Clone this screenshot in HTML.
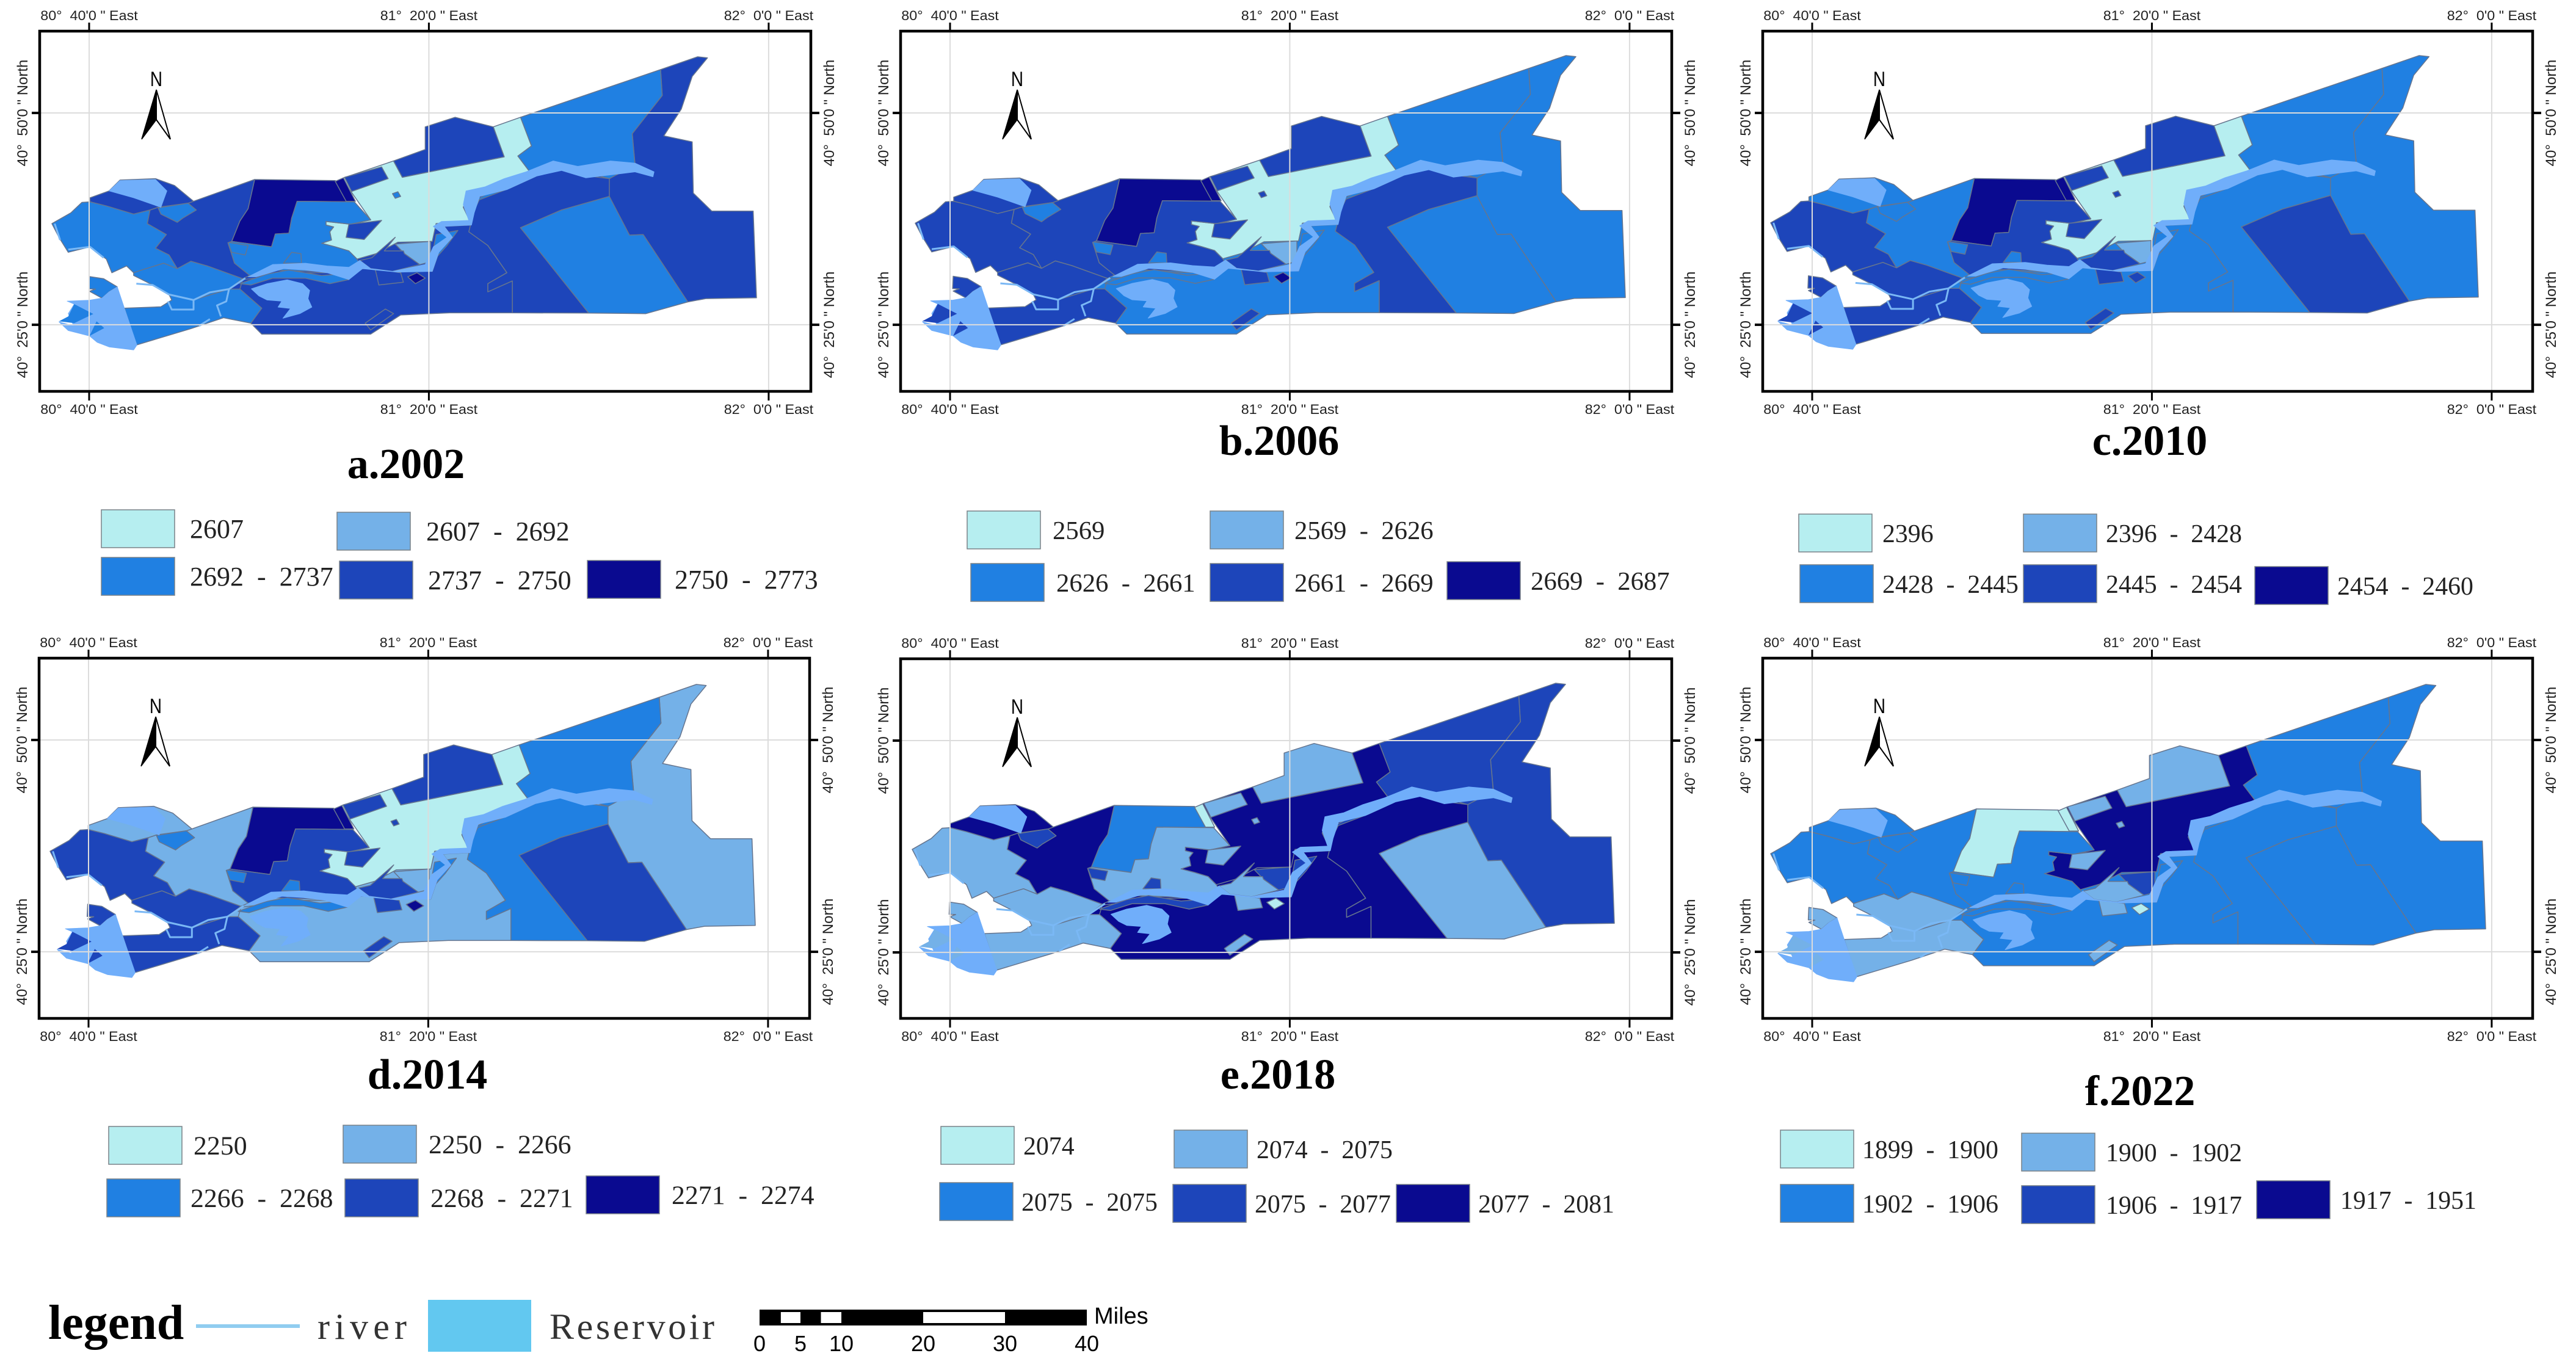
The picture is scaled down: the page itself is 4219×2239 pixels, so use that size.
<!DOCTYPE html>
<html lang="en">
<head>
<meta charset="utf-8">
<title>Six-period classified map panels</title>
<style>
html,body{margin:0;padding:0;background:#fff;}
svg{display:block;}
text{white-space:pre;}
</style>
</head>
<body>
<svg id="figure" xmlns="http://www.w3.org/2000/svg" width="4219" height="2239" viewBox="0 0 4219 2239"></svg>
<script>
/* ---------- data ---------- */
const panelNames = ["a", "b", "c", "d", "e", "f"];
const panelTitles = ["a.2002", "b.2006", "c.2010", "d.2014", "e.2018", "f.2022"];
const legendLabels = [
  ["2607", "2607  -  2692", "2692  -  2737", "2737  -  2750", "2750  -  2773"],
  ["2569", "2569  -  2626", "2626  -  2661", "2661  -  2669", "2669  -  2687"],
  ["2396", "2396  -  2428", "2428  -  2445", "2445  -  2454", "2454  -  2460"],
  ["2250", "2250  -  2266", "2266  -  2268", "2268  -  2271", "2271  -  2274"],
  ["2074", "2074  -  2075", "2075  -  2075", "2075  -  2077", "2077  -  2081"],
  ["1899  -  1900", "1900  -  1902", "1902  -  1906", "1906  -  1917", "1917  -  1951"]
];
const classColors = ["#b6eef0", "#74b1e8", "#2080e2", "#1d45ba", "#0a0a90"];
const lakeColor = "#70aefa";
const lonTicks = [80.6667, 81.3333, 82];
const lonLabels = ["80°  40'0 \" East", "81°  20'0 \" East", "82°  0'0 \" East"];
const latTicks = [40.8333, 40.4167];
const latLabels = ["40°  50'0 \" North", "40°  25'0 \" North"];
const scaleValues = [0, 5, 10, 20, 30, 40];
const scaleWhiteBars = [[2.6, 5], [7.5, 10], [20, 30]];

/* class index of each zone for panels a..f */
const zoneClasses = {
  riverBase:     [3, 2, 2, 1, 4, 2],
  eastStrip:     [3, 2, 2, 1, 3, 2],
  northEast:     [2, 2, 2, 2, 3, 2],
  southMain:     [3, 2, 2, 1, 4, 2],
  southEast:     [3, 3, 2, 2, 4, 2],
  eastBox:       [2, 2, 3, 3, 1, 2],
  center:        [0, 0, 0, 0, 4, 4],
  northBlock:    [3, 3, 3, 3, 1, 1],
  northStrip:    [3, 3, 3, 3, 1, 1],
  upperBlock:    [4, 4, 4, 4, 2, 0],
  upperSliver:   [4, 4, 4, 4, 0, 0],
  midWest:       [2, 3, 3, 3, 1, 2],
  midWestPatch:  [2, 2, 2, 2, 3, 2],
  midWestLump:   [2, 2, 2, 2, 3, 2],
  westCentral:   [3, 3, 2, 1, 4, 2],
  nwSurround:    [3, 3, 2, 1, 4, 2],
  pentagon:      [2, 2, 2, 2, 3, 2],
  farWest:       [2, 3, 3, 3, 1, 2],
  swMiddle:      [2, 3, 3, 3, 1, 1],
  swSouth:       [2, 3, 3, 3, 1, 1],
  swWest:        [2, 3, 3, 3, 1, 1],
  hook:          [3, 3, 3, 3, 1, 1],
  smallParcel:   [3, 3, 3, 3, 1, 1],
  diamond:       [4, 4, 3, 4, 0, 0],
  nearDiamond:   [3, 3, 3, 3, 1, 1],
  riverParcel:   [1, 1, 1, 1, 3, 3],
  centerParcel:  [3, 3, 3, 3, 1, 1],
  riverBend:     [2, 2, 2, 2, 3, 2],
  centerSquare:  [2, 3, 3, 3, 1, 1],
  northBank:     [2, 2, 2, 2, 3, 2],
  southBank:     [2, 2, 2, 2, 3, 2]
};
const patchClasses = {
  swPatchA:      [2, 3, 3, 3, 1, 1],
  swPatchB:      [2, 3, 3, 3, 1, 1]
};

/* zone geometry (map units), shared by all six panels */
const zoneShapes = {
  riverBase: "418,1062 445,1020 600,955 700,880 800,800 850,700 1020,595 1118,650 1118,725 900,1000 800,1000 500,1060",
  eastStrip: "1280,208 1298,212 1270,280 1250,400 1218,498 1270,520 1272,708 1306,774 1382,774 1388,1092 1295,1095 1262,1107 1180,860 1155,862 1115,720 1118,655 1165,600 1160,490 1215,350 1212,255",
  northEast: "955,430 1212,255 1215,350 1160,490 1165,605 1118,655 1020,600 972,630 950,572 975,535",
  southMain: "460,1185 480,1130 440,1060 445,1025 560,1000 650,1000 665,985 793,995 805,925 830,870 815,830 865,825 870,780 895,900 930,1000 895,1040 895,1070 940,1030 940,1147 825,1147 735,1155 680,1225 480,1225",
  southEast: "870,770 880,730 930,690 990,630 1020,610 1060,640 1118,655 1118,720 1030,770 955,835 1080,1148 940,1147 940,1030 895,1070 895,1040 930,1000 895,900 860,850",
  eastBox: "955,835 1030,770 1118,720 1155,862 1180,860 1262,1107 1185,1150 1080,1148",
  center: "630,652 722,590 738,650 925,575 905,465 955,430 975,535 950,572 972,630 930,660 900,700 860,700 850,760 862,810 800,820 793,885 730,888 690,930 655,950 640,920 615,905 590,892 608,880 605,850 612,832 598,825 598,812 643,822 680,806 645,705 630,670",
  northBlock: "780,465 835,430 905,465 925,575 738,650 722,590 780,548",
  northStrip: "632,650 700,612 712,655 645,702",
  upperBlock: "467,658 615,662 650,740 545,738 535,800 530,855 505,858 498,905 425,885 440,810 455,765",
  upperSliver: "615,665 630,652 652,738 635,738",
  midWest: "545,738 650,740 680,806 643,822 598,812 598,825 612,832 605,850 608,880 590,892 615,905 640,920 655,950 665,985 640,1000 500,990 450,1015 430,965 418,890 425,885 498,905 505,858 530,855 535,800",
  midWestPatch: "418,888 455,900 450,935 425,925",
  midWestLump: "520,965 535,925 552,930 553,965",
  westCentral: "355,738 467,658 455,765 440,810 425,885 418,890 430,965 458,1010 445,1022 380,975 350,958 325,985 310,935 285,910 305,860 270,820 275,770 290,760 345,745",
  nwSurround: "165,725 200,700 220,660 285,655 320,680 355,738 345,745 290,760 275,770 245,785 195,755 165,740",
  pentagon: "290,762 345,745 360,770 335,800 325,815 295,785",
  farWest: "150,742 165,740 195,755 245,785 275,770 270,820 305,860 285,910 310,935 325,985 300,965 260,990 245,1000 232,975 205,1000 195,950 165,905 125,925 108,870 95,820 130,780",
  swMiddle: "245,1000 260,990 300,965 325,985 350,958 380,975 445,1022 420,1060 355,1100 310,1080 280,1045 245,1010",
  swSouth: "310,1080 355,1100 420,1060 440,1060 480,1130 460,1185 410,1165 350,1205 250,1265 228,1130 295,1125 315,1100",
  swWest: "164,1014 190,1022 215,1052 200,1070 187,1093 164,1068 175,1060 163,1059",
  hook: "640,822 672,815 700,808 668,878 635,870",
  smallParcel: "670,1185 707,1133 722,1150 680,1210",
  diamond: "748,1015 765,1000 780,1020 762,1040",
  nearDiamond: "688,985 735,1000 740,1035 695,1045",
  riverParcel: "725,895 790,885 790,960 770,970 742,930",
  centerParcel: "682,945 725,870 705,920 740,920 742,930 770,970 720,995 680,985 660,955",
  riverBend: "800,860 840,845 820,900 800,945 795,915",
  centerSquare: "720,710 730,703 735,720 725,727",
  northBank: "870,735 900,705 930,665 970,650 1010,615 990,640 935,690 880,732",
  southBank: "440,1040 490,1005 530,990 590,1010 625,1005 640,1025 605,1040 560,1020 500,1020 460,1045"
};
const lakeShapes = {
  mainRiver: "455,1015 500,970 560,965 600,975 640,980 660,955 680,985 720,995 780,970 795,905 820,870 795,830 810,812 860,808 850,750 855,700 890,685 925,655 965,630 1015,590 1060,610 1120,590 1165,598 1200,630 1198,648 1165,630 1125,640 1075,652 1030,625 985,645 930,695 880,720 870,780 865,825 815,830 830,870 805,925 793,995 730,998 690,990 665,985 640,1025 600,1000 560,990 520,985 470,1015",
  southLake: "461,1059 490,1040 527,1026 555,1040 568,1065 565,1095 572,1126 550,1150 519,1167 533,1131 510,1126 517,1104 490,1100 475,1085",
  northwestLake: "200,700 220,662 285,658 306,700 295,760 245,725",
  westLake: "215,1052 228,1130 251,1265 245,1283 200,1272 178,1255 164,1232 125,1212 108,1180 135,1195 125,1150 136,1115 123,1104 164,1101 187,1093 200,1070"
};
const patchShapes = {
  swPatchA: "136,1115 171,1151 136,1185 108,1178 125,1160",
  swPatchB: "177,1178 191,1203 164,1232"
};
const riverLines = [
  "450,1020 420,1060 385,1072 355,1100 310,1080 280,1045 250,1040",
  "355,1100 355,1135 315,1135 308,1105",
  "420,1060 415,1105 398,1120 405,1160",
  "100,820 110,880",
  "125,915 165,905 190,945",
  "365,1195 385,1170"
];

/* ---------- layout ---------- */
const frames = [[65,51,1328,641],[1475,51,2738,641],[2887,51,4148,641],[64,1078,1326,1668],[1475,1079,2738,1668],[2887,1078,4148,1668]];
const mapBoxes = [[85,93,1154,481],[1499,91,1163,483],[2900,91,1159,482],[82,1121,1155,481],[1494,1119,1150,479],[2900,1121,1171,488]];
const legendFontSizes = [44, 42.7, 41.8, 43.8, 41.8, 41.8];
const legendBoxes = [
  [[166,835,311],[552,839,698],[166,913,311],[556,919,701],[962,918,1105]],
  [[1584,837,1724],[1982,837,2120],[1590,923,1730],[1982,923,2120],[2370,920,2507]],
  [[2946,842,3083],[3314,842,3449],[2948,925,3083],[3314,925,3449],[3693,928,3828]],
  [[178,1845,317],[562,1843,702],[175,1931,312],[565,1931,705],[960,1926,1100]],
  [[1541,1845,1676],[1923,1851,2058],[1539,1937,1673],[1921,1940,2055],[2287,1940,2421]],
  [[2916,1851,3050],[3311,1856,3449],[2916,1940,3050],[3311,1942,3449],[3696,1934,3833]]
];
const titleAnchors = [[665,783],[2095,745],[3521,745],[700,1783],[2093,1783],[3505,1810]];

const NS = "http://www.w3.org/2000/svg";
const root = document.getElementById("figure");
function make(tag, attrs, parent, text) {
  const el = document.createElementNS(NS, tag);
  for (const k in attrs) el.setAttribute(k, attrs[k]);
  if (text !== undefined) el.textContent = text;
  (parent || root).appendChild(el);
  return el;
}
function lonAxis(frame, lon) { return frame[0] + 81 + (lon - 80.6667) / 0.6667 * 556.5; }
function latAxis(frame, lat) { return frame[1] + 134 + (40.8333 - lat) / 0.4167 * 347; }
function mapPoints(box, shape) {
  return shape.split(" ").map(function (pair) {
    const p = pair.split(",");
    const x = box[0] + (+p[0] - 95) / 1293 * box[2];
    const y = box[1] + (+p[1] - 208) / 1077 * box[3];
    return x.toFixed(1) + "," + y.toFixed(1);
  }).join(" ");
}

panelNames.forEach(function (name, pi) {
  const frame = frames[pi];
  const box = mapBoxes[pi];
  const group = make("g", {});
  
  

  Object.keys(zoneShapes).forEach(function (zone) {
    const color = classColors[zoneClasses[zone][pi]];
    const poly = make("polygon", {
      points: mapPoints(box, zoneShapes[zone]),
      fill: color,
      stroke: zone === "riverBase" ? color : "#66758e",
      "stroke-width": 1.5,
      "stroke-linejoin": "round"
    }, group);
    
    
  });
  Object.keys(lakeShapes).forEach(function (lake) {
    const poly = make("polygon", {
      points: mapPoints(box, lakeShapes[lake]),
      fill: lakeColor,
      stroke: lakeColor,
      "stroke-width": 1,
      "stroke-linejoin": "round"
    }, group);
    
    
  });
  Object.keys(patchShapes).forEach(function (patch) {
    const poly = make("polygon", {
      points: mapPoints(box, patchShapes[patch]),
      fill: classColors[patchClasses[patch][pi]],
      "stroke-linejoin": "round"
    }, group);
    
    
  });
  riverLines.forEach(function (line, ri) {
    const river = make("polyline", {
      points: mapPoints(box, line),
      fill: "none",
      stroke: "#7ab8f5",
      "stroke-width": 3,
      "stroke-linejoin": "round"
    }, group);
    
    
  });

  lonTicks.forEach(function (lon, i) {
    const x = lonAxis(frame, lon);
    const grid = make("line", { x1: x, x2: x, y1: frame[1], y2: frame[3], stroke: "#dcdcdc", "stroke-width": 2 }, group);
    
    
    [[frame[1] - 14, frame[1]], [frame[3], frame[3] + 15]].forEach(function (t) {
      const tick = make("line", { x1: x, x2: x, y1: t[0], y2: t[1], stroke: "#000", "stroke-width": 3 }, group);
      
      
    });
    [frame[1] - 18, frame[3] + 37].forEach(function (y) {
      const label = make("text", {
        transform: "translate(" + x + "," + y + ") scale(1.06,1)",
        "text-anchor": "middle",
        "font-family": '"Liberation Sans", sans-serif',
        "font-size": 22,
        fill: "#222"
      }, group, lonLabels[i]);
      
      
    });
  });
  latTicks.forEach(function (lat, i) {
    const y = latAxis(frame, lat);
    const grid = make("line", { x1: frame[0], x2: frame[2], y1: y, y2: y, stroke: "#dcdcdc", "stroke-width": 2 }, group);
    
    
    [[frame[0] - 13, frame[0]], [frame[2], frame[2] + 14]].forEach(function (t) {
      const tick = make("line", { x1: t[0], x2: t[1], y1: y, y2: y, stroke: "#000", "stroke-width": 4 }, group);
      
      
    });
    [frame[0] - 20, frame[2] + 38].forEach(function (x) {
      const label = make("text", {
        transform: "translate(" + x + "," + y + ") rotate(-90)",
        "text-anchor": "middle",
        "font-family": '"Liberation Sans", sans-serif',
        "font-size": 24,
        fill: "#222"
      }, group, latLabels[i]);
      
      
    });
  });

  const border = make("rect", {
    x: frame[0], y: frame[1],
    width: frame[2] - frame[0], height: frame[3] - frame[1],
    fill: "none", stroke: "#000", "stroke-width": 4.5
  }, group);
  
  

  const ax = frame[0] + 191, ay = frame[1] + 96;
  const north = make("text", {
    x: ax, y: ay - 6, "text-anchor": "middle",
    "font-family": '"Liberation Sans", sans-serif',
    "font-size": 34, fill: "#000",
    transform: "translate(" + ax + ",0) scale(0.82,1) translate(" + (-ax) + ",0)"
  }, group, "N");
  
  
  const arrowLeft = make("polygon", {
    points: ax + "," + ay + " " + (ax - 24) + "," + (ay + 81) + " " + ax + "," + (ay + 49),
    fill: "#000", stroke: "#000", "stroke-width": 1.5
  }, group);
  
  
  const arrowRight = make("polygon", {
    points: ax + "," + ay + " " + (ax + 23) + "," + (ay + 81) + " " + ax + "," + (ay + 49),
    fill: "#fff", stroke: "#000", "stroke-width": 2
  }, group);
  
  

  const title = make("text", {
    x: titleAnchors[pi][0], y: titleAnchors[pi][1], "text-anchor": "middle",
    "font-family": '"Liberation Serif", serif',
    "font-size": 70, "font-weight": "bold", fill: "#000"
  }, root, panelTitles[pi]);
  
  

  legendLabels[pi].forEach(function (label, ci) {
    const b = legendBoxes[pi][ci];
    const swatch = make("rect", {
      x: b[0], y: b[1], width: 120, height: 62,
      fill: classColors[ci], stroke: "#7a8288", "stroke-width": 1.5
    });
    
    
    const txt = make("text", {
      x: b[2], y: b[1] + 46,
      "font-family": '"Liberation Serif", serif',
      "font-size": legendFontSizes[pi], fill: "#222"
    }, root, label);
    
    
  });
});

/* ---------- bottom legend ---------- */
const legendWord = make("text", { x: 79, y: 2193, "font-family": '"Liberation Serif", serif', "font-size": 80, "font-weight": "bold", fill: "#000" }, root, "legend");


const riverKey = make("line", { x1: 321, x2: 491, y1: 2172, y2: 2172, stroke: "#90cdf0", "stroke-width": 6 });


const riverText = make("text", { x: 520, y: 2193, "font-family": '"Liberation Serif", serif', "font-size": 60, fill: "#333", textLength: 146, lengthAdjust: "spacing" }, root, "river");


const reservoirKey = make("rect", { x: 701, y: 2129, width: 169, height: 85, fill: "#62c8f0" });


const reservoirText = make("text", { x: 900, y: 2193, "font-family": '"Liberation Serif", serif', "font-size": 60, fill: "#333", textLength: 270, lengthAdjust: "spacing" }, root, "Reservoir");



function scaleAxis(v) { return 1244 + v * 13.4; }
const scaleBar = make("rect", { x: scaleAxis(0), y: 2145, width: scaleAxis(40) - scaleAxis(0), height: 26, fill: "#000" });


scaleWhiteBars.forEach(function (seg) {
  const bar = make("rect", { x: scaleAxis(seg[0]), y: 2149, width: scaleAxis(seg[1]) - scaleAxis(seg[0]), height: 18, fill: "#fff" });
  
  
});
scaleValues.forEach(function (v) {
  const t = make("text", { x: scaleAxis(v), y: 2213, "text-anchor": "middle", "font-family": '"Liberation Sans", sans-serif', "font-size": 36, fill: "#000" }, root, String(v));
  
  
});
const miles = make("text", { x: 1792, y: 2168, "font-family": '"Liberation Sans", sans-serif', "font-size": 38, fill: "#000" }, root, "Miles");


</script>
</body>
</html>
